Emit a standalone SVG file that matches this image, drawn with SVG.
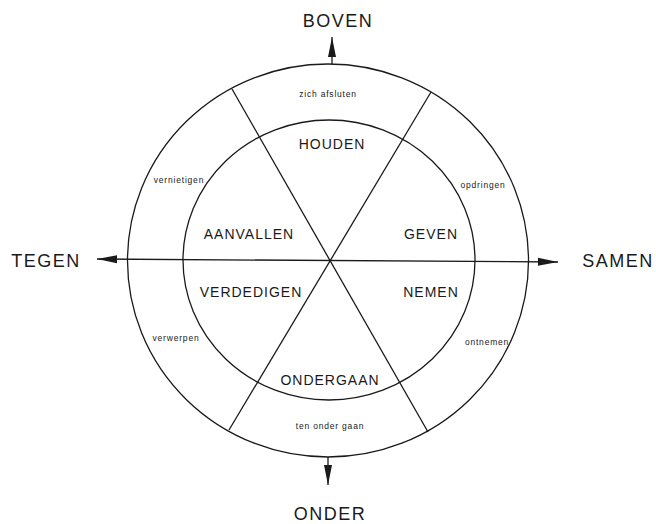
<svg xmlns="http://www.w3.org/2000/svg" width="656" height="524" viewBox="0 0 656 524">
<defs>
<style>
.ln{stroke:#1a1a1a;stroke-width:1.3;fill:none}
.big{font-family:"Liberation Sans",Arial,sans-serif;font-size:18px;fill:#1a1a1a;letter-spacing:1.5px;text-anchor:middle}
.mid{font-family:"Liberation Sans",Arial,sans-serif;font-size:14px;fill:#1a1a1a;letter-spacing:1px;text-anchor:middle}
.sm{font-family:"Liberation Sans",Arial,sans-serif;font-size:8.5px;fill:#1a1a1a;letter-spacing:0.8px;text-anchor:middle}
</style>
<marker id="ah" markerUnits="userSpaceOnUse" markerWidth="22" markerHeight="10" refX="20" refY="4.5" orient="auto-start-reverse">
<path d="M0,0.5 L20,4.5 L0,8.5 Z" fill="#1a1a1a"/>
</marker>
</defs>
<rect width="656" height="524" fill="#ffffff"/>
<g id="circles">
<ellipse id="outer" class="ln" cx="328" cy="260.5" rx="200.5" ry="196.5"/>
<ellipse id="inner" class="ln" cx="329" cy="260" rx="146" ry="140"/>
</g>
<g id="connectors">
<line class="ln" x1="97" y1="259" x2="558" y2="262" marker-start="url(#ah)" marker-end="url(#ah)"/>
<line class="ln" x1="332" y1="64" x2="332" y2="37" marker-end="url(#ah)"/>
<line class="ln" x1="328" y1="457" x2="328" y2="485" marker-end="url(#ah)"/>
<line class="ln" x1="232" y1="89" x2="428" y2="432"/>
<line class="ln" x1="431" y1="92" x2="229" y2="430"/>
</g>
<g id="axis-labels">
<text id="boven" class="big" x="338" y="27">BOVEN</text>
<text id="onder" class="big" x="330" y="520">ONDER</text>
<text id="tegen" class="big" x="46" y="267">TEGEN</text>
<text id="samen" class="big" x="618" y="267">SAMEN</text>
</g>
<g id="inner-labels">
<g id="houden"><text class="mid" x="332" y="149">HOUDEN</text></g>
<g id="aanvallen"><text class="mid" x="249" y="239">AANVALLEN</text></g>
<g id="geven"><text class="mid" x="431" y="239">GEVEN</text></g>
<g id="verdedigen"><text class="mid" x="251" y="297">VERDEDIGEN</text></g>
<g id="nemen"><text class="mid" x="431" y="297">NEMEN</text></g>
<g id="ondergaan"><text class="mid" x="330" y="385">ONDERGAAN</text></g>
</g>
<g id="outer-labels">
<g id="afsluiten"><text class="sm" x="328" y="97">zich afsluten</text></g>
<g id="vernietigen"><text class="sm" x="179" y="183">vernietigen</text></g>
<g id="opdringen"><text class="sm" x="483" y="188">opdringen</text></g>
<g id="verwerpen"><text class="sm" x="176" y="341">verwerpen</text></g>
<g id="ontnemen"><text class="sm" x="487" y="345">ontnemen</text></g>
<g id="ten-onder-gaan"><text class="sm" x="330" y="429">ten onder gaan</text></g>
</g>
</svg>
